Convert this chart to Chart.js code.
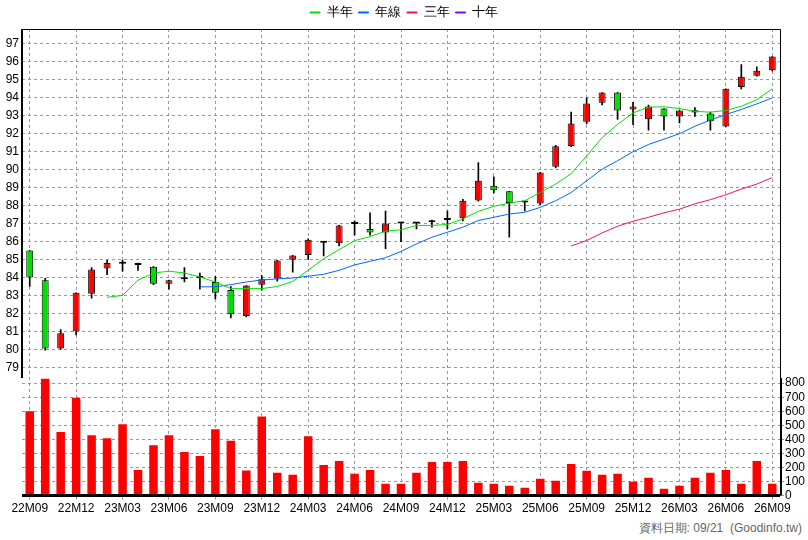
<!DOCTYPE html>
<html>
<head>
<meta charset="utf-8">
<script src="https://cdn.jsdelivr.net/npm/chart.js@4"></script>
<style>
  body { margin: 0; background: #fff; font-family: "Liberation Sans", Arial, sans-serif; }
  #wrap { position: relative; width: 808px; height: 540px; }
  #box { position: absolute; left: 0; top: 0; width: 808px; height: 518px; }
  #foot { position: absolute; right: 6px; top: 520px; font-size: 12px; color: #666; }
</style>
</head>
<body>
<div id="wrap">
  <div id="box"><canvas id="chart"></canvas></div>
  <div id="foot">資料日期: 09/21&nbsp; (Goodinfo.tw)</div>
</div>
<script>
// months 22M09 .. 26M09
const months = ['22M09','22M10','22M11','22M12','23M01','23M02','23M03','23M04','23M05','23M06','23M07','23M08',
  '23M09','23M10','23M11','23M12','24M01','24M02','24M03','24M04','24M05','24M06','24M07','24M08',
  '24M09','24M10','24M11','24M12','25M01','25M02','25M03','25M04','25M05','25M06','25M07','25M08',
  '25M09','25M10','25M11','25M12','26M01','26M02','26M03','26M04','26M05','26M06','26M07','26M08','26M09'];

const openP  = [85.5,83.85,80.05,81.0,83.1,84.5,84.77,84.7,84.6,83.65,83.9,83.97,83.75,83.3,81.85,83.6,83.95,84.99,85.25,85.94,85.9,86.98,86.7,86.5,
  87.0,87.0,87.07,87.2,87.3,88.28,89.1,88.8,88.18,88.12,90.17,91.32,92.67,93.73,94.29,93.35,92.8,93.4,92.96,93.31,93.13,92.4,94.6,95.23,95.54];
const closeP = [84.0,80.05,80.9,83.15,84.45,84.8,84.77,84.7,83.65,83.85,84.0,83.97,83.15,81.95,83.55,83.9,84.95,85.23,86.1,85.94,86.9,86.98,86.5,87.0,
  87.0,87.0,87.07,87.2,88.27,89.38,88.85,88.15,88.18,89.85,91.3,92.57,93.68,94.29,93.29,93.51,93.51,92.96,93.29,93.18,92.7,94.5,95.17,95.5,96.3];
const highP  = [85.5,83.95,81.1,83.15,84.55,84.95,84.95,84.8,84.6,83.85,84.55,84.25,84.05,83.5,83.55,84.1,84.95,85.23,86.15,86.0,86.9,87.15,87.6,87.7,
  87.0,87.05,87.2,87.7,88.35,90.4,89.6,88.8,88.2,89.85,91.35,93.2,94.0,94.29,94.29,93.75,93.6,93.4,93.29,93.45,93.2,94.5,95.85,95.73,96.3];
const lowP   = [83.5,79.95,80.0,80.8,82.85,84.15,84.35,84.4,83.6,83.35,83.75,83.35,82.8,81.75,81.8,83.3,83.8,84.3,85.0,85.2,85.75,86.35,86.35,85.6,
  86.0,86.7,86.8,86.7,87.15,88.25,88.7,86.25,87.7,88.05,90.1,91.28,92.55,93.6,92.8,92.5,92.2,92.2,92.6,92.97,92.2,92.4,94.5,95.2,95.5];

const ma6 = [null,null,null,null,null,82.9,83.0,83.85,84.25,84.35,84.25,84.03,83.75,83.38,83.38,83.38,83.5,83.78,84.4,85.05,85.55,86.05,86.28,86.58,
  86.65,86.9,86.9,86.95,87.26,87.68,87.96,88.14,88.27,88.73,89.2,89.78,90.76,91.78,92.52,93.16,93.48,93.5,93.4,93.25,93.2,93.3,93.53,93.9,94.5];
const ma12 = [null,null,null,null,null,null,null,null,null,null,null,83.48,83.48,83.6,83.75,83.86,83.92,83.97,84.07,84.18,84.4,84.7,84.9,85.1,
  85.45,85.87,86.24,86.52,86.8,87.17,87.35,87.53,87.63,87.9,88.27,88.73,89.38,90.03,90.5,91.0,91.4,91.7,92.0,92.42,92.76,93.07,93.35,93.66,94.0];
const ma36 = [null,null,null,null,null,null,null,null,null,null,null,null,null,null,null,null,null,null,null,null,null,null,null,null,
  null,null,null,null,null,null,null,null,null,null,null,85.75,86.06,86.48,86.85,87.13,87.35,87.6,87.8,88.1,88.33,88.6,88.92,89.2,89.56];
const ma120 = [];

const volume = [601,831,453,697,430,408,507,183,359,430,310,282,472,390,178,563,162,148,423,218,246,155,183,85,
  85,162,239,239,246,92,85,70,56,120,106,225,176,148,155,99,127,49,70,127,162,183,85,246,85];

const priceTicks = [79,80,81,82,83,84,85,86,87,88,89,90,91,92,93,94,95,96,97];
const volTicks = [0,100,200,300,400,500,600,700,800];

const UP = '#ff0000', DOWN = '#00dd00', DOJI = '#000000';
const candleColor = months.map((m, i) => closeP[i] > openP[i] ? UP : (closeP[i] < openP[i] ? DOWN : DOJI));
const gridCol = (ctx) => (ctx.index % 3 === 0 ? '#999' : 'rgba(0,0,0,0)');
const SPLIT = 378; // canvas y where price panel ends and volume axis starts

const frame = {
  id: 'frame',
  afterDraw(chart) {
    const a = chart.chartArea, c = chart.ctx;
    c.save();
    c.strokeStyle = '#000';
    c.lineWidth = 1;
    c.beginPath();
    c.moveTo(a.left, a.top + 0.5); c.lineTo(a.right + 0.5, a.top + 0.5); c.lineTo(a.right + 0.5, SPLIT);
    c.stroke();
    c.lineWidth = 2;
    c.beginPath();
    c.moveTo(a.left, a.top); c.lineTo(a.left, SPLIT);
    c.moveTo(a.right + 1, SPLIT); c.lineTo(a.right + 1, a.bottom);
    c.stroke();
    c.lineWidth = 3;
    c.beginPath(); c.moveTo(a.left, a.bottom); c.lineTo(a.right, a.bottom); c.stroke();
    c.restore();
  }
};

const font = { family: '"Liberation Sans", Arial, sans-serif', size: 12 };

new Chart(document.getElementById('chart'), {
  data: {
    labels: months,
    datasets: [
      { type: 'line', label: '半年', data: ma6, borderColor: '#00e000', backgroundColor: '#00e000', borderWidth: 1, pointRadius: 0, order: 0 },
      { type: 'line', label: '年線', data: ma12, borderColor: '#0066ff', backgroundColor: '#0066ff', borderWidth: 1, pointRadius: 0, order: 0 },
      { type: 'line', label: '三年', data: ma36, borderColor: '#ee1166', backgroundColor: '#ee1166', borderWidth: 1, pointRadius: 0, order: 0 },
      { type: 'line', label: '十年', data: ma120, borderColor: '#8800ff', backgroundColor: '#8800ff', borderWidth: 1, pointRadius: 0, order: 0 },
      { type: 'bar', label: 'body', data: months.map((m, i) => [openP[i], closeP[i]]),
        backgroundColor: candleColor, borderColor: '#000', borderWidth: 1, borderSkipped: false,
        barPercentage: 0.45, categoryPercentage: 1, minBarLength: 2, grouped: false, order: 1 },
      { type: 'bar', label: 'wick', data: months.map((m, i) => [lowP[i], highP[i]]),
        backgroundColor: '#000', barThickness: 1, grouped: false, order: 2 },
      { type: 'bar', label: 'vol', data: volume, yAxisID: 'yv', backgroundColor: '#ff0000',
        barPercentage: 0.55, categoryPercentage: 1, grouped: false, order: 3 }
    ]
  },
  options: {
    animation: false, responsive: true, maintainAspectRatio: false,
    layout: { padding: { left: 0, right: 0, top: 0, bottom: 0 } },
    plugins: {
      legend: {
        position: 'top',
        labels: {
          font: { family: font.family, size: 13 }, color: '#000',
          boxWidth: 10, boxHeight: 1, padding: 6,
          filter: (item) => ['半年', '年線', '三年', '十年'].includes(item.text)
        }
      },
      tooltip: { enabled: false }
    },
    scales: {
      x: {
        offset: true,
        grid: { color: gridCol, lineWidth: 1, tickLength: 4, offset: false },
        border: { display: false, dash: [3, 3] },
        ticks: { font: font, color: '#000', autoSkip: false, maxRotation: 0, padding: 2,
          callback: (v, i) => (i % 3 === 0 ? months[i] : '') }
      },
      y: {
        min: 71.86, max: 97.83,
        afterBuildTicks: (axis) => { axis.ticks = priceTicks.map(v => ({ value: v })); },
        afterFit: (axis) => { axis.width = 22; },
        grid: { color: '#999', tickLength: 0 },
        border: { display: false, dash: [3, 3] },
        ticks: { font: font, color: '#000', padding: 3, autoSkip: false }
      },
      yv: {
        position: 'right', min: 0, max: 3320,
        afterBuildTicks: (axis) => { axis.ticks = volTicks.map(v => ({ value: v })); },
        afterFit: (axis) => { axis.width = 28; },
        grid: { color: '#999', tickLength: 4 },
        border: { display: false, dash: [3, 3] },
        ticks: { font: font, color: '#000', padding: 1, autoSkip: false }
      }
    }
  },
  plugins: [frame]
});
</script>
</body>
</html>
